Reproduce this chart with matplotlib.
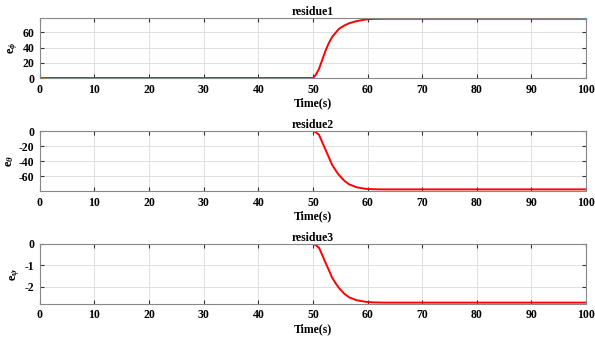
import numpy as np
import matplotlib
matplotlib.use("Agg")
import matplotlib.pyplot as plt

# curve samples (flat before 50 s, settles by ~62 s)
t = [0, 50, 50.5, 51.1, 51.7, 52.3, 52.9, 53.5, 54.2, 54.8, 55.7, 56.6, 58.0, 59.6, 61.0, 63.0, 100]
res1 = [0, 0, 4, 12, 24, 36, 46, 54, 60, 65, 69, 72, 75, 77, 77.8, 78, 78]
res2 = [0, 0, -1.5, -5, -15, -25, -35, -45, -53, -59, -66, -71, -75, -77, -77.6, -77.8, -77.8]
res3 = [0, 0, -0.05, -0.18, -0.52, -0.88, -1.22, -1.57, -1.86, -2.07, -2.32, -2.49, -2.63, -2.70, -2.73, -2.74, -2.74]

titles = ["residue1", "residue2", "residue3"]
ylabels = [r"e$_{\phi}$", r"e$_{\theta}$", r"e$_{\psi}$"]
ylims = [(0, 79), (-80, 0), (-2.8, 0)]
yticks = [[0, 20, 40, 60], [-60, -40, -20, 0], [-2, -1, 0]]
xticks = list(range(0, 101, 10))

plt.rcParams["font.family"] = ["Liberation Serif", "DejaVu Serif"]
plt.rcParams["font.weight"] = "bold"
plt.rcParams["axes.unicode_minus"] = False
plt.rcParams["mathtext.fontset"] = "custom"
plt.rcParams["mathtext.rm"] = "Liberation Serif:bold"
plt.rcParams["mathtext.it"] = "Liberation Serif:italic:bold"

fig = plt.figure(figsize=(5.95, 3.43), dpi=100)
tops = [0.9475, 0.618, 0.289]
h = 0.175
for i, y in enumerate([res1, res2, res3]):
    ax = fig.add_axes([0.067, tops[i] - h, 0.918, h])
    ax.plot(t, y, color="red", lw=1.4)
    ax.set_xlim(0, 100)
    ax.set_ylim(*ylims[i])
    ax.set_xticks(xticks)
    ax.set_yticks(yticks[i])
    ax.grid(True, color="#e0e0e0", lw=0.7)
    ax.tick_params(direction="in", top=True, right=True, labelsize=8.5,
                   length=3, color="#333333", pad=4)
    for lbl in ax.get_xticklabels() + ax.get_yticklabels():
        lbl.set_fontweight("bold")
    for s in ax.spines.values():
        s.set_color("#888888")
        s.set_linewidth(0.8)
    ax.set_title(titles[i], fontsize=8.5, fontweight="bold", pad=2)
    ax.set_xlabel("Time(s)", fontsize=8.5, fontweight="bold", labelpad=1)
    ax.set_ylabel(ylabels[i], fontsize=9, fontweight="bold", labelpad=2)

fig.savefig("out.png", dpi=100)
